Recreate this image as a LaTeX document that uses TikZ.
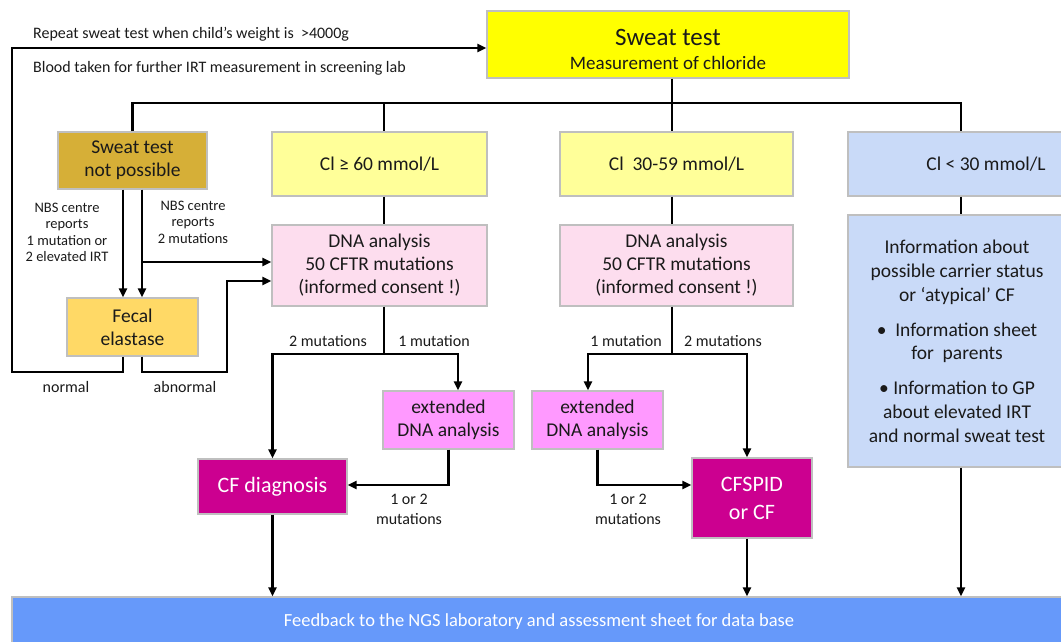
\documentclass[tikz,border=0pt]{standalone}
\usepackage{fontspec}
\setmainfont{Carlito}
\usetikzlibrary{arrows.meta,calc}
\definecolor{sweatY}{HTML}{FFFF00}
\definecolor{clY}{HTML}{FFFF99}
\definecolor{ntpC}{HTML}{D6AF37}
\definecolor{fecalC}{HTML}{FFD966}
\definecolor{dnaC}{HTML}{FDDDEE}
\definecolor{extC}{HTML}{FF99FF}
\definecolor{magC}{HTML}{CC0090}
\definecolor{blueL}{HTML}{C9DAF8}
\definecolor{fbC}{HTML}{6699FA}
\definecolor{bordC}{HTML}{BFBFBF}
\definecolor{txtC}{HTML}{1A1A1A}
\newcommand{\fsz}[2]{\fontsize{#1}{#2}\selectfont}
\begin{document}
\begin{tikzpicture}[x=1pt,y=-1pt,
  box/.style={draw=bordC,line width=1.3pt,align=center,inner sep=0pt,text=txtC,font=\fsz{19.5}{23}},
  lbl/.style={align=center,inner sep=0pt,text=txtC,font=\fsz{16}{20}},
  nbs/.style={align=center,inner sep=0pt,text=txtC,font=\fsz{14.5}{16.5}},
  ln/.style={line width=2.2pt,draw=black},
  arr/.style={ln,-{Triangle[length=9pt,width=8pt]}}]
\useasboundingbox (0,0) rectangle (1061,641);

% boxes
\node[box,fill=sweatY,minimum width=362pt,minimum height=67pt] (sweat) at (668,44.5)
  {{\fsz{25}{25}\rule{0pt}{27pt}Sweat test}\\[1pt]\fsz{19}{22}Measurement of chloride};
\node[box,fill=ntpC,minimum width=149pt,minimum height=57pt] (ntp) at (132.5,160.5)
  {Sweat test\\not possible};
\node[box,fill=clY,minimum width=215pt,minimum height=64pt] (cl60) at (379.5,164)
  {Cl ≥ 60 mmol/L};
\node[box,fill=clY,minimum width=233pt,minimum height=64pt] (cl30) at (676.5,164)
  {Cl\ \ 30-59 mmol/L};
\node[box,fill=blueL,minimum width=218pt,minimum height=64pt] (cllt) at (957,164) {};
\node[lbl,font=\fsz{19.5}{23}] (cllttxt) at (986,164) {Cl < 30 mmol/L};
\node[box,fill=blueL,minimum width=218pt,minimum height=252pt] (info) at (957,341)
  {Information about\\[1pt]possible carrier status\\[1pt]or ‘atypical’ CF\\[12pt]
   •\ \ Information sheet\\for\ \ parents\\[12pt]
   • Information to GP\\[1pt]about elevated IRT\\[1pt]and normal sweat test};
\node[box,fill=fecalC,minimum width=131pt,minimum height=58pt] (fecal) at (132.5,327)
  {Fecal\\elastase};
\node[box,fill=dnaC,minimum width=215pt,minimum height=81pt] (dna1) at (379.5,265.5)
  {DNA analysis\\50 CFTR mutations\\(informed consent !)};
\node[box,fill=dnaC,minimum width=233pt,minimum height=81pt] (dna2) at (676.5,265.5)
  {DNA analysis\\50 CFTR mutations\\(informed consent !)};
\node[box,fill=extC,minimum width=131pt,minimum height=58pt] (ext1) at (448.5,420)
  {extended\\DNA analysis};
\node[box,fill=extC,minimum width=131pt,minimum height=58pt] (ext2) at (597.5,420)
  {extended\\DNA analysis};
\node[box,fill=magC,text=white,font=\fsz{22}{28},minimum width=149pt,minimum height=55pt] (cfd) at (272.5,486.5)
  {CF diagnosis};
\node[box,fill=magC,text=white,font=\fsz{22}{28},minimum width=120pt,minimum height=80pt] (cfspid) at (752,498)
  {CFSPID\\or CF};
\node[box,fill=fbC,text=white,font=\fsz{18.5}{20},minimum width=1054pt,minimum height=49pt] (fb) at (539,621.5)
  {Feedback to the NGS laboratory and assessment sheet for data base};

% texts
\node[lbl,anchor=west] (rep) at (33,34) {Repeat sweat test when child’s weight is\ \ >4000g};
\node[lbl,anchor=west] (blood) at (33,68) {Blood taken for further IRT measurement in screening lab};
\node[nbs] (nbs1) at (67,232.5) {NBS centre\\reports\\1 mutation or\\2 elevated IRT};
\node[nbs] (nbs2) at (193,222) {NBS centre\\reports\\2 mutations};
\node[lbl] (normal) at (66,387) {normal};
\node[lbl] (abnormal) at (185,387) {abnormal};
\node[lbl] (m2a) at (328,341) {2 mutations};
\node[lbl] (m1a) at (434,341) {1 mutation};
\node[lbl] (m1b) at (626,341) {1 mutation};
\node[lbl] (m2b) at (723,341) {2 mutations};
\node[lbl] (or1) at (409,509) {1 or 2\\mutations};
\node[lbl] (or2) at (628,509) {1 or 2\\mutations};

% connectors
\coordinate (bus) at (672,103);
\draw[ln] ([xshift=4pt]sweat.south) -- (bus);
\draw[ln] (ntp.north) |- ([xshift=4pt]cllt.north |- bus) -- ([xshift=4pt]cllt.north);
\draw[ln] ([xshift=4.5pt]cl60.north |- bus) -- ([xshift=4.5pt]cl60.north);
\draw[ln] ([xshift=-4.5pt]cl30.north |- bus) -- ([xshift=-4.5pt]cl30.north);
\draw[ln] ([xshift=4.5pt]cl60.south) -- ([xshift=4.5pt]dna1.north);
\draw[ln] ([xshift=-4.5pt]cl30.south) -- ([xshift=-4.5pt]dna2.north);
\draw[ln] ([xshift=4pt]cllt.south) -- ([xshift=4pt]info.north);

\draw[arr] ([xshift=-9.5pt]ntp.south) -- ([xshift=-9.5pt]fecal.north);
\draw[arr] ([xshift=9.5pt]ntp.south) -- ([xshift=9.5pt]fecal.north);
\coordinate (j1) at (142,262);
\draw[arr] (j1) -- (j1 -| dna1.west);
\draw[arr] ([xshift=9.5pt]fecal.south) |- (227,372) |- ([yshift=-15.5pt]dna1.west);
\draw[arr] ([xshift=-9.5pt]fecal.south) |- (12,372) |- ([yshift=-3.5pt]sweat.west);

\coordinate (b1) at (384,354);
\draw[ln] ([xshift=4.5pt]dna1.south) -- (b1);
\draw[arr] (b1) -| (cfd.north);
\draw[arr] (b1) -| ([xshift=9.5pt]ext1.north);
\draw[arr] (ext1.south) |- ([yshift=1.5pt]cfd.east);

\coordinate (b2) at (672,354);
\draw[ln] ([xshift=-4.5pt]dna2.south) -- (b2);
\draw[arr] (b2) -| ([xshift=-9.5pt]ext2.north);
\draw[arr] (b2) -| ([xshift=-5pt]cfspid.north);
\draw[arr] (ext2.south) |- ([yshift=13pt]cfspid.west);

\draw[arr] (cfd.south) -- (cfd.south |- fb.north);
\draw[arr] ([xshift=-5pt]cfspid.south) -- ([xshift=-5pt]cfspid.south |- fb.north);
\draw[arr] ([xshift=4pt]info.south) -- ([xshift=4pt]info.south |- fb.north);
\end{tikzpicture}
\end{document}
